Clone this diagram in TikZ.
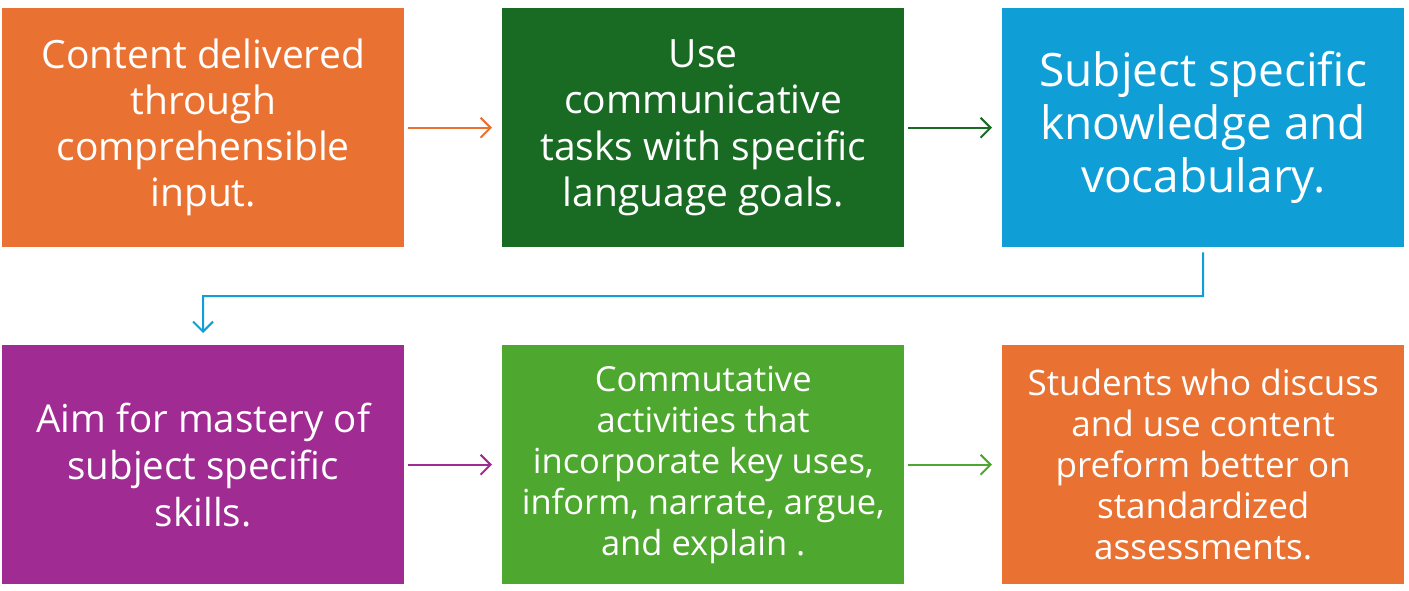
\documentclass[tikz,border=0pt]{standalone}
\usepackage{fontspec}
\setmainfont{Open Sans}
\usetikzlibrary{arrows.meta}
\definecolor{cOrange}{HTML}{E97132}
\definecolor{cDkGreen}{HTML}{196B24}
\definecolor{cBlue}{HTML}{0F9ED5}
\definecolor{cPurple}{HTML}{A02B93}
\definecolor{cLtGreen}{HTML}{4EA72E}
\tikzset{
  box/.style={fill=#1, draw=none, minimum width=402pt, minimum height=239pt,
    inner sep=0pt, text=white, align=center, anchor=north west},
  conn/.style={draw=#1, line width=2pt, -{Straight Barb[length=10pt,width=20pt,line width=2pt]}},
}
\begin{document}
\begin{tikzpicture}[x=1pt,y=-1pt]
\useasboundingbox (0,0) rectangle (1409,591);
\node[box=cOrange, font=\fontsize{39}{46}\selectfont] (b1) at (2,8) {Content delivered\\through\\comprehensible\\input.};
\node[box=cDkGreen, font=\fontsize{39}{46.5}\selectfont] (b2) at (502,8) {Use\\communicative\\tasks with specific\\language goals.};
\node[box=cBlue, font=\fontsize{46}{53}\selectfont] (b3) at (1002,8) {Subject specific\\knowledge and\\vocabulary.};
\node[box=cPurple, font=\fontsize{38.5}{47}\selectfont] (b4) at (2,345) {Aim for mastery of\\subject specific\\skills.};
\node[box=cLtGreen, font=\fontsize{34.5}{41}\selectfont] (b5) at (502,345) {Commutative\\activities that\\incorporate key uses,\\inform, narrate, argue,\\and explain .};
\node[box=cOrange, font=\fontsize{35}{41}\selectfont] (b6) at (1002,345) {Students who discuss\\and use content\\preform better on\\standardized\\assessments.};
\draw[conn=cOrange] ([xshift=4pt]b1.east) -- ([xshift=-10pt]b2.west);
\draw[conn=cDkGreen] ([xshift=4pt]b2.east) -- ([xshift=-10pt]b3.west);
\draw[conn=cPurple] ([xshift=4pt]b4.east) -- ([xshift=-10pt]b5.west);
\draw[conn=cLtGreen] ([xshift=4pt]b5.east) -- ([xshift=-10pt]b6.west);
\coordinate (k1) at (1203,296);
\coordinate (k2) at (203,296);
\draw[conn=cBlue] ([yshift=-5pt]b3.south) -- (k1) -- (k2) -- ([yshift=12pt]b4.north -| k2);
\end{tikzpicture}
\end{document}
